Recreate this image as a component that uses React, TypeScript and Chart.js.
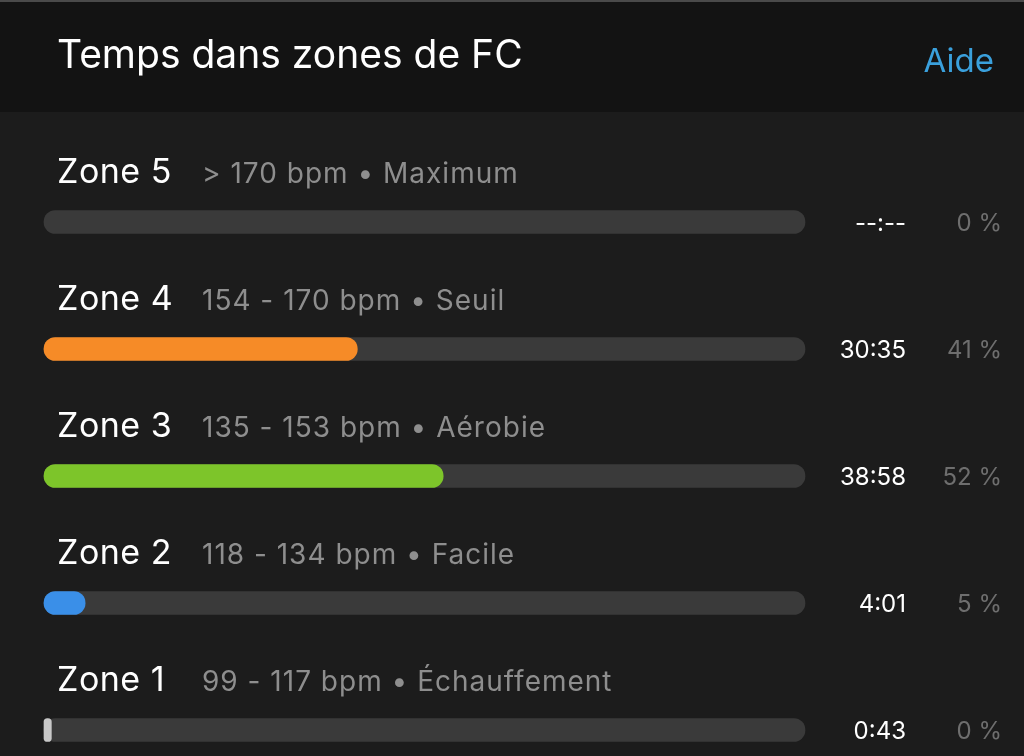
import React, { useEffect, useRef } from "react";
import { Chart, registerables } from "chart.js";

Chart.register(...registerables);

const headerTitle = "Temps dans zones de FC";
const helpLabel = "Aide";
const zones = ["Zone 5", "Zone 4", "Zone 3", "Zone 2", "Zone 1"];
const ranges = [
  "> 170 bpm • Maximum",
  "154 - 170 bpm • Seuil",
  "135 - 153 bpm • Aérobie",
  "118 - 134 bpm • Facile",
  "99 - 117 bpm • Échauffement",
];
const seconds = [0, 1835, 2338, 241, 43];
const timeLabels = ["--:--", "30:35", "38:58", "4:01", "0:43"];
const percentLabels = ["0 %", "41 %", "52 %", "5 %", "0 %"];
const barColors = ["#c8c8c8", "#f68b27", "#7dc52a", "#3a8fe8", "#c8c8c8"];

const total = seconds.reduce((a, b) => a + b, 0);
const trackValues = zones.map(() => total);
const shownSeconds = seconds.map((v) => (v === 0 ? null : v));

const FONT = "Inter, 'Noto Sans', sans-serif";

const bgPlugin = {
  id: "bgPlugin",
  beforeDraw(chart: any) {
    const { ctx, width, height } = chart;
    ctx.save();
    ctx.fillStyle = "#1c1c1c";
    ctx.fillRect(0, 0, width, height);
    ctx.fillStyle = "#131313";
    ctx.fillRect(0, 0, width, 112);
    ctx.fillStyle = "#4a4a4a";
    ctx.fillRect(0, 0, width, 2);
    ctx.fillStyle = "#ffffff";
    ctx.font = `400 39px ${FONT}`;
    ctx.textAlign = "left";
    ctx.textBaseline = "alphabetic";
    ctx.fillText(headerTitle, 57, 68);
    ctx.fillStyle = "#3aa0dc";
    ctx.font = `400 33px ${FONT}`;
    ctx.textAlign = "right";
    ctx.fillText(helpLabel, 994, 72);
    ctx.restore();
  },
};

const labelPlugin = {
  id: "labelPlugin",
  afterDatasetsDraw(chart: any) {
    const { ctx } = chart;
    const yScale = chart.scales.y;
    const xScale = chart.scales.x;
    ctx.save();
    ctx.textBaseline = "alphabetic";
    zones.forEach((z, i) => {
      const y = yScale.getPixelForValue(i);
      const left = xScale.getPixelForValue(0);
      ctx.textAlign = "left";
      ctx.fillStyle = "#ffffff";
      ctx.font = `400 34px ${FONT}`;
      (ctx as any).letterSpacing = "0.5px";
      ctx.fillText(z, left + 13, y - 39);
      ctx.fillStyle = "#8e8e8e";
      ctx.font = `400 28px ${FONT}`;
      (ctx as any).letterSpacing = "1px";
      ctx.fillText(ranges[i], left + 158, y - 39);
      (ctx as any).letterSpacing = "0px";
      ctx.textAlign = "right";
      ctx.fillStyle = "#ffffff";
      ctx.font = `400 24px ${FONT}`;
      ctx.fillText(timeLabels[i], 906, y + 9);
      ctx.fillStyle = "#6e6e6e";
      ctx.fillText(percentLabels[i], 1002, y + 9);
    });
    ctx.restore();
  },
};

export default function App() {
  const ref = useRef<HTMLCanvasElement | null>(null);
  useEffect(() => {
    document.body.style.margin = "0";
    document.body.style.background = "#1c1c1c";
    const chart = new Chart(ref.current as HTMLCanvasElement, {
      type: "bar",
      data: {
        labels: zones,
        datasets: [
          {
            label: "time",
            data: shownSeconds,
            backgroundColor: barColors,
            borderRadius: 12,
            borderSkipped: false,
            barThickness: 23,
            grouped: false,
            order: 1,
            clip: false,
          } as any,
          {
            label: "track",
            data: trackValues,
            backgroundColor: "#3a3a3a",
            borderRadius: 12,
            borderSkipped: false,
            barThickness: 23,
            grouped: false,
            order: 2,
            clip: false,
          } as any,
        ],
      },
      options: {
        indexAxis: "y",
        animation: false,
        responsive: false,
        maintainAspectRatio: false,
        layout: { padding: { left: 44, right: 219, top: 222, bottom: 26 } },
        plugins: { legend: { display: false }, tooltip: { enabled: false } },
        scales: {
          x: { display: false, min: 0, max: total },
          y: { display: false, offset: false },
        },
      },
      plugins: [bgPlugin, labelPlugin],
    });
    return () => chart.destroy();
  }, []);
  return (
    <div style={{ width: 1024, height: 756, background: "#1c1c1c" }}>
      <canvas ref={ref} width={1024} height={756} style={{ display: "block" }} />
    </div>
  );
}
